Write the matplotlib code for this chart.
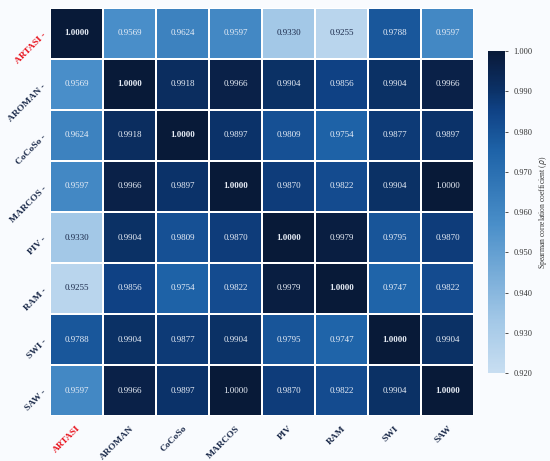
import numpy as np
import matplotlib
matplotlib.use('Agg')
import matplotlib.pyplot as plt
from matplotlib.colors import LinearSegmentedColormap

methods = ['ARTASI', 'AROMAN', 'CoCoSo', 'MARCOS', 'PIV', 'RAM', 'SWI', 'SAW']

rho = np.array([
    [1.0000, 0.9569, 0.9624, 0.9597, 0.9330, 0.9255, 0.9788, 0.9597],
    [0.9569, 1.0000, 0.9918, 0.9966, 0.9904, 0.9856, 0.9904, 0.9966],
    [0.9624, 0.9918, 1.0000, 0.9897, 0.9809, 0.9754, 0.9877, 0.9897],
    [0.9597, 0.9966, 0.9897, 1.0000, 0.9870, 0.9822, 0.9904, 1.0000],
    [0.9330, 0.9904, 0.9809, 0.9870, 1.0000, 0.9979, 0.9795, 0.9870],
    [0.9255, 0.9856, 0.9754, 0.9822, 0.9979, 1.0000, 0.9747, 0.9822],
    [0.9788, 0.9904, 0.9877, 0.9904, 0.9795, 0.9747, 1.0000, 0.9904],
    [0.9597, 0.9966, 0.9897, 1.0000, 0.9870, 0.9822, 0.9904, 1.0000],
])

highlight = 'ARTASI'
vmin, vmax = 0.92, 1.00
cbar_ticks = [0.92, 0.93, 0.94, 0.95, 0.96, 0.97, 0.98, 0.99, 1.00]

plt.rcParams['font.family'] = ['Liberation Serif', 'DejaVu Serif']

# blues, a bit darker at the top end than the stock map
cmap = LinearSegmentedColormap.from_list('blues_deep', [
    (0.00, '#c8def1'),
    (0.16, '#a3c8e7'),
    (0.46, '#4a8fc9'),
    (0.69, '#1e63a8'),
    (0.82, '#0f4184'),
    (0.88, '#0b3166'),
    (0.96, '#0a2148'),
    (1.00, '#081a38'),
])

bg = '#f9fbfe'
navy = '#1b2a4a'

fig = plt.figure(figsize=(5.5, 4.61), dpi=100, facecolor=bg)
ax = fig.add_axes([50 / 550, 1 - 416 / 461, 424 / 550, 408 / 461])
cax = fig.add_axes([488 / 550, 1 - 373 / 461, 17 / 550, 322 / 461])
ax.set_facecolor(bg)

n = len(methods)
mesh = ax.pcolormesh(np.arange(n + 1), np.arange(n + 1), rho, cmap=cmap,
                     vmin=vmin, vmax=vmax, edgecolors='white', linewidth=1.4)
ax.set_xlim(0, n)
ax.set_ylim(n, 0)

for i in range(n):
    for j in range(n):
        v = rho[i, j]
        frac = (v - vmin) / (vmax - vmin)
        color = '#1b2a4a' if frac < 0.25 else '#e8eef7'
        ax.text(j + 0.5, i + 0.5, f'{v:.4f}', ha='center', va='center',
                fontsize=6.5, color=color,
                fontweight='bold' if i == j else 'normal')

ax.set_xticks(np.arange(n) + 0.5)
ax.set_yticks(np.arange(n) + 0.5)
ax.set_xticklabels(methods, rotation=45, ha='right', rotation_mode='anchor',
                   fontsize=6.8, fontweight='bold', color=navy)
ax.set_yticklabels([f'{m} -' for m in methods], rotation=45, ha='right',
                   rotation_mode='anchor', fontsize=6.8, fontweight='bold',
                   color=navy)
ax.tick_params(axis='x', length=0, pad=6)
ax.tick_params(axis='y', length=0, pad=4)
for lab in ax.get_xticklabels() + ax.get_yticklabels():
    if lab.get_text().startswith(highlight):
        lab.set_color('#e8101a')
for s in ax.spines.values():
    s.set_visible(False)

cb = fig.colorbar(mesh, cax=cax, ticks=cbar_ticks)
cb.outline.set_visible(False)
cb.ax.set_yticklabels([f'{t:.3f}' for t in cbar_ticks])
cb.ax.tick_params(labelsize=6, colors='#333333', length=2.5, width=0.6)
cb.set_label('Spearman correlation coefficient ($\\rho$)', fontsize=5.5,
             color='#333333', labelpad=3)

fig.savefig('out.png', dpi=100, facecolor=bg)
